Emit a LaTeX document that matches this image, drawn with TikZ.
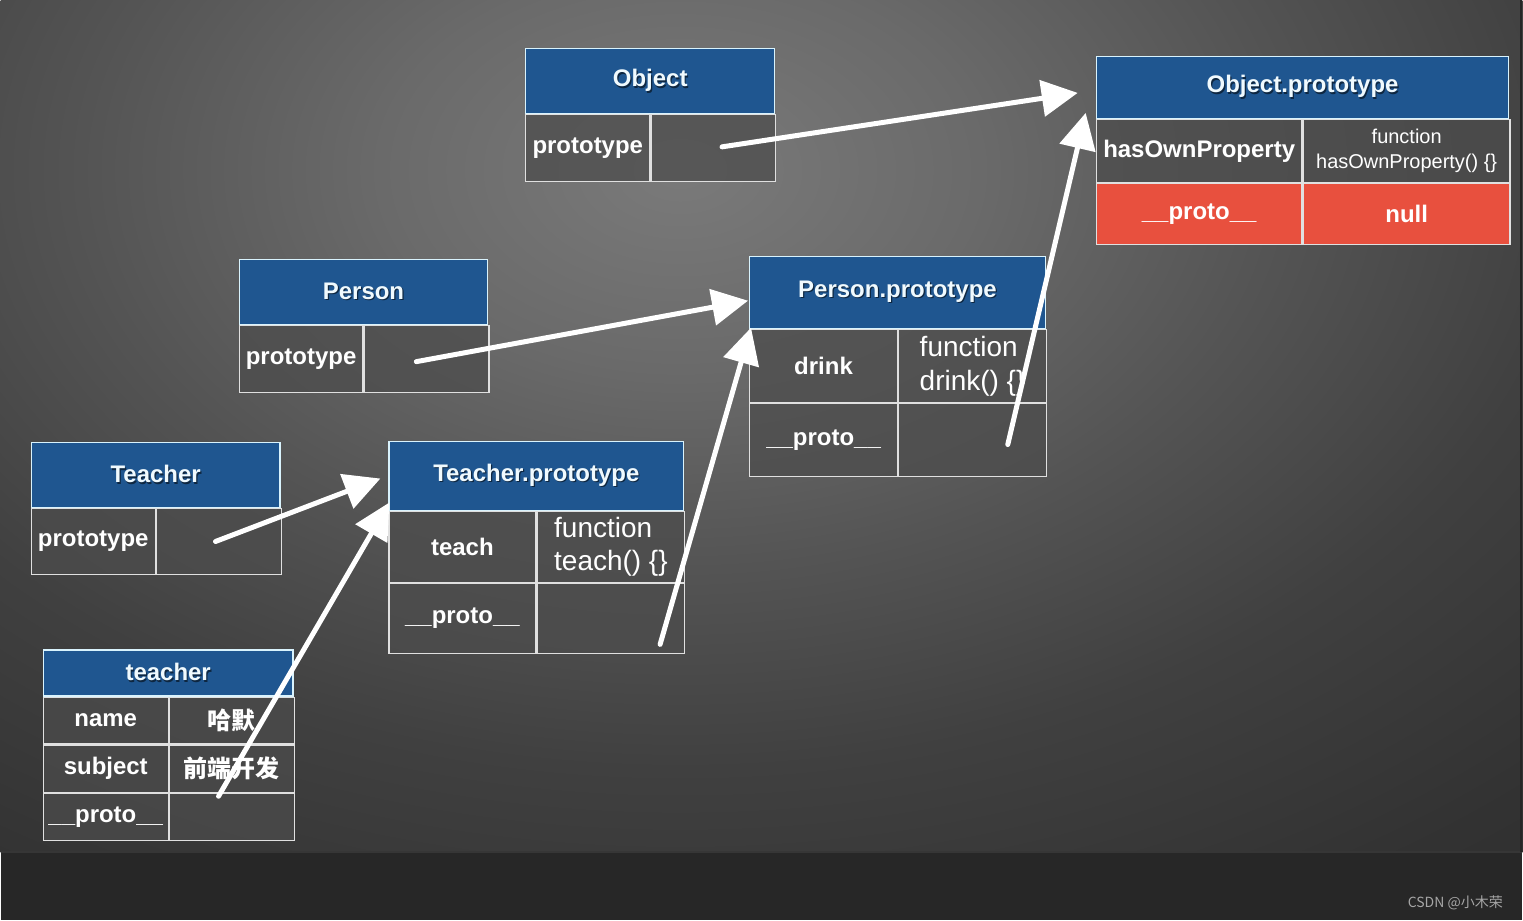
\documentclass[tikz,border=0pt]{standalone}
\usepackage{fontspec}
\setmainfont{Liberation Sans}
\newfontfamily\cjk{Noto Sans CJK SC}
\usetikzlibrary{arrows.meta}

\definecolor{headblue}{HTML}{1F5690}
\definecolor{cellgray}{HTML}{4C4C4C}
\definecolor{protored}{HTML}{E8503E}
\definecolor{floor}{HTML}{272727}
\definecolor{bgA}{HTML}{7A7A7A}
\definecolor{bgB}{HTML}{6A6A6A}
\definecolor{bgC}{HTML}{545454}
\definecolor{bgD}{HTML}{404040}
\definecolor{bgE}{HTML}{323232}
\definecolor{bgF}{HTML}{2B2B2B}
\pgfdeclareradialshading{stage}{\pgfpoint{0bp}{0bp}}{color(0bp)=(bgA); color(5bp)=(bgB); color(10bp)=(bgC); color(15bp)=(bgD); color(21bp)=(bgE); color(27bp)=(bgF); color(50bp)=(bgF)}

% title text with a soft dark shadow
\newcommand\hdtext[1]{\leavevmode\rlap{\kern1.2pt\raisebox{-1.6pt}{\textcolor{headblue!45!black}{#1}}}#1}

\tikzset{
  hd/.style={draw=white!85!cyan, line width=1.2pt, fill=headblue, text=white!94!cyan,
    font=\fontsize{24}{28}\selectfont\bfseries, inner sep=0pt, anchor=north west},
  key/.style={draw=white!88!black, line width=1.2pt, fill=cellgray, fill opacity=.75,
    text opacity=1, text=white, font=\fontsize{24}{28}\selectfont\bfseries,
    inner sep=0pt, anchor=north west},
  fn/.style={key, font=\fontsize{28}{34}\selectfont, align=left},
  nul/.style={key, fill=protored, fill opacity=1},
  chalk/.style={draw=white, line width=5pt, line cap=round,
    -{Triangle[length=36pt,width=36pt]}},
}

\begin{document}
\begin{tikzpicture}[x=1pt,y=-1pt]
% backdrop
\fill[floor] (0,0) rectangle (1523,921);
\begin{scope}
\clip (0,0) rectangle (1523,853);
\shade[shading=stage] (680,170) ellipse (1500pt and 1000pt);
\end{scope}
\draw[white!21!black, line width=1.5pt] (0,853) -- (1523,853);
\fill[black!85] (1521,0) rectangle (1523,853);

% Object
\node[hd, minimum width=249pt, minimum height=65pt] (obj) at (525,48) {\hdtext{Object}};
\node[key, minimum width=124pt, minimum height=67pt] (obj-k) at (obj.south west) {prototype};
\node[key, minimum width=125pt, minimum height=67pt] (obj-v) at (obj-k.north east) {};

% Object.prototype
\node[hd, minimum width=413pt, minimum height=62pt] (op) at (1096,56) {\hdtext{Object.prototype}};
\node[key, minimum width=206pt, minimum height=63pt] (op-k1) at (op.south west) {hasOwnProperty};
\node[fn, minimum width=207pt, minimum height=63pt, align=center,
  font=\fontsize{20}{25}\selectfont] (op-v1) at (op-k1.north east) {function\\hasOwnProperty() \{\}};
\node[nul, minimum width=206pt, minimum height=61pt] (op-k2) at (op-k1.south west) {\_\_proto\_\_};
\node[nul, minimum width=207pt, minimum height=61pt] (op-v2) at (op-k2.north east) {null};

% Person
\node[hd, minimum width=249pt, minimum height=65pt] (per) at (238,259) {\hdtext{Person}};
\node[key, minimum width=124pt, minimum height=67pt] (per-k) at (per.south west) {prototype};
\node[key, minimum width=125pt, minimum height=67pt] (per-v) at (per-k.north east) {};

% Person.prototype
\node[hd, minimum width=296pt, minimum height=72pt] (pp) at (749,256) {\hdtext{Person.prototype}};
\node[key, minimum width=148pt, minimum height=73pt] (pp-k1) at (pp.south west) {drink};
\node[fn, minimum width=148pt, minimum height=73pt] (pp-v1) at (pp-k1.north east) {function\\drink() \{\}};
\node[key, minimum width=148pt, minimum height=73pt] (pp-k2) at (pp-k1.south west) {\_\_proto\_\_};
\node[key, minimum width=148pt, minimum height=73pt] (pp-v2) at (pp-k2.north east) {};

% Teacher
\node[hd, minimum width=249pt, minimum height=65pt] (tea) at (30,442) {\hdtext{Teacher}};
\node[key, minimum width=124pt, minimum height=66pt] (tea-k) at (tea.south west) {prototype};
\node[key, minimum width=125pt, minimum height=66pt] (tea-v) at (tea-k.north east) {};

% Teacher.prototype
\node[hd, minimum width=295pt, minimum height=69pt] (tp) at (388,441) {\hdtext{Teacher.prototype}};
\node[key, minimum width=147pt, minimum height=71pt] (tp-k1) at (tp.south west) {teach};
\node[fn, minimum width=148pt, minimum height=71pt] (tp-v1) at (tp-k1.north east) {function\\teach() \{\}};
\node[key, minimum width=147pt, minimum height=70pt] (tp-k2) at (tp-k1.south west) {\_\_proto\_\_};
\node[key, minimum width=148pt, minimum height=70pt] (tp-v2) at (tp-k2.north east) {};

% teacher instance
\node[hd, minimum width=250pt, minimum height=46pt] (inst) at (42,650) {\hdtext{teacher}};
\node[key, minimum width=125pt, minimum height=47pt] (inst-k1) at (inst.south west) {name};
\node[key, minimum width=125pt, minimum height=47pt] (inst-v1) at (inst-k1.north east) {\cjk\bfseries 哈默};
\node[key, minimum width=125pt, minimum height=47pt] (inst-k2) at (inst-k1.south west) {subject};
\node[key, minimum width=125pt, minimum height=47pt] (inst-v2) at (inst-k2.north east) {\cjk\bfseries 前端开发};
\node[key, minimum width=125pt, minimum height=47pt] (inst-k3) at (inst-k2.south west) {\_\_proto\_\_};
\node[key, minimum width=125pt, minimum height=47pt] (inst-v3) at (inst-k3.north east) {};

% chalk arrows
\coordinate (obj-tail) at (722,147);
\coordinate (op-tip) at (1078,93);
\coordinate (per-tail) at (416,362);
\coordinate (pp-tip) at (748,301);
\coordinate (tea-tail) at (215,542);
\coordinate (tp-tip) at (380,479);
\coordinate (inst-tail) at (218,797);
\coordinate (tp-tip2) at (389,503);
\coordinate (tp-tail) at (660,645);
\coordinate (pp-tip2) at (751,328);
\coordinate (pp-tail) at (1008,445);
\coordinate (op-tip2) at (1086,113);
\draw[chalk] (obj-tail) -- (op-tip);
\draw[chalk] (per-tail) -- (pp-tip);
\draw[chalk] (tea-tail) -- (tp-tip);
\draw[chalk] (inst-tail) -- (tp-tip2);
\draw[chalk] (tp-tail) -- (pp-tip2);
\draw[chalk] (pp-tail) -- (op-tip2);

\node[font=\cjk\fontsize{14}{16}\selectfont, text=white!65!black, anchor=east] (mark) at (1507,904) {CSDN @小木荣};
\end{tikzpicture}
\end{document}
